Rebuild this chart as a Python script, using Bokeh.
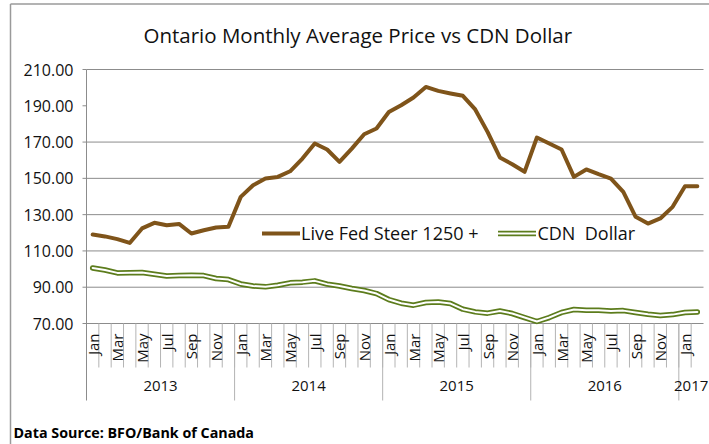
import math
from bokeh.plotting import figure
from bokeh.models import Range1d, Legend, LegendItem
from bokeh.embed import file_html
from bokeh.resources import INLINE
from bokeh.core.properties import value

# ---------------- data ----------------
years = ["2013", "2014", "2015", "2016", "2017"]
month_names = ["Jan", "Feb", "Mar", "Apr", "May", "Jun",
               "Jul", "Aug", "Sep", "Oct", "Nov", "Dec"]
# Jan 2013 .. Feb 2017 (50 months)
month_labels = (month_names * 4) + ["Jan", "Feb"]

steer = [119.0, 118.0, 116.5, 114.4, 122.4, 125.5, 124.2, 124.9, 119.6, 121.4, 122.9, 123.3,
         139.8, 146.2, 149.9, 150.8, 153.9, 160.9, 169.2, 165.9, 159.1, 166.4, 174.3, 177.5,
         186.6, 190.3, 194.6, 200.4, 198.2, 196.8, 195.5, 188.0, 175.6, 161.5, 157.8, 153.6,
         172.5, 169.2, 165.9, 150.8, 154.9, 152.3, 149.9, 142.5, 128.8, 125.1, 127.9, 134.3,
         145.7, 145.7]

cdn = [100.6, 99.5, 97.9, 98.0, 98.1, 97.2, 96.2, 96.4, 96.6, 96.4, 94.8, 94.2,
       91.8, 90.7, 90.2, 91.1, 92.4, 92.8, 93.5, 91.7, 90.7, 89.3, 88.2, 86.5,
       83.2, 81.2, 80.1, 81.6, 81.9, 81.0, 77.9, 76.4, 75.7, 76.9, 75.5, 73.3,
       71.1, 73.3, 76.1, 77.7, 77.3, 77.3, 76.9, 77.1, 76.1, 75.1, 74.4, 74.9,
       76.1, 76.4]

y_ticks = [70, 90, 110, 130, 150, 170, 190, 210]
y_tick_labels = ["70.00", "90.00", "110.00", "130.00", "150.00", "170.00", "190.00", "210.00"]
grid_ticks = [70, 90, 110, 130, 150, 170, 210]

series_names = ["Live Fed Steer 1250 +", "CDN  Dollar"]
title_text = "Ontario Monthly Average Price vs CDN Dollar"
source_text = "Data Source: BFO/Bank of Canada"

# ---------------- styling / layout ----------------
BROWN = "#7F541A"
GREEN = "#5C7C1C"
GRID = "#8C8C8C"
TICK = "#B4B4B4"
FRAME = "#9A9A9A"
TXT = "#111111"
FONT = "Open Sans"

W, H = 709, 444
n = len(month_labels)
xs = [i + 0.5 for i in range(n)]

# pixel geometry of the plotting area (y: 70 -> 323px, 210 -> 69px; x: 0 -> 86px, n -> 703px)
PX = (703 - 86) / n
PY = (323 - 69) / (210 - 70)


def sx(px):
    return (px - 86) / PX


def sy(py):
    return 70 + (323 - py) / PY


p = figure(width=W, height=H, output_backend="svg", toolbar_location=None,
           x_range=Range1d(sx(0), sx(W)), y_range=Range1d(sy(H), sy(0)),
           x_axis_location=None, y_axis_location=None,
           min_border=0, min_border_left=0, min_border_right=0,
           min_border_top=0, min_border_bottom=0)
p.outline_line_color = None
p.background_fill_color = "white"
p.border_fill_color = "white"
p.grid.visible = False

# chart-area frame (left and top edges)
p.segment(x0=[sx(10), sx(10)], y0=[sy(3.5), sy(3.5)], x1=[sx(W + 5), sx(10)], y1=[sy(3.5), sy(H + 5)],
          line_color=FRAME, line_width=1.5)

# horizontal gridlines
p.segment(x0=[0] * len(grid_ticks), y0=grid_ticks, x1=[n] * len(grid_ticks), y1=grid_ticks,
          line_color=GRID, line_width=1)

# value axis: line, ticks, labels
p.segment(x0=[0], y0=[sy(400)], x1=[0], y1=[210], line_color=GRID, line_width=1)
p.segment(x0=[sx(82)] * len(y_ticks), y0=y_ticks, x1=[0] * len(y_ticks), y1=y_ticks,
          line_color=GRID, line_width=1)
p.text(x=[sx(73)] * len(y_ticks), y=y_ticks, text=y_tick_labels,
       text_align="right", text_baseline="middle",
       text_font=value(FONT), text_font_size="16px", text_color=TXT)

# category axis: month ticks, year separators, labels
tick_x = list(range(1, n))
p.segment(x0=tick_x, y0=[70] * len(tick_x), x1=tick_x, y1=[sy(367)] * len(tick_x),
          line_color=TICK, line_width=1)
year_sep = [12, 24, 36, 48]
p.segment(x0=year_sep, y0=[70] * 4, x1=year_sep, y1=[sy(400)] * 4,
          line_color=TICK, line_width=1)

lab_x = [xs[i] for i in range(0, n, 2)]
lab_t = [month_labels[i] for i in range(0, n, 2)]
p.text(x=lab_x, y=[sy(333)] * len(lab_x), text=lab_t, angle=math.pi / 2,
       text_align="right", text_baseline="middle",
       text_font=value(FONT), text_font_size="15px", text_color=TXT)

year_x = [6, 18, 30, 42, 49]
p.text(x=year_x, y=[sy(385)] * len(year_x), text=years,
       text_align="center", text_baseline="middle",
       text_font=value(FONT), text_font_size="15px", text_color=TXT)

# title and source note
p.text(x=[sx(143)], y=[sy(34)], text=[title_text],
       text_align="left", text_baseline="middle",
       text_font=value(FONT), text_font_size="20.5px", text_color=TXT)
p.text(x=[sx(13)], y=[sy(432)], text=[source_text],
       text_align="left", text_baseline="middle",
       text_font=value(FONT), text_font_size="14.3px", text_font_style="bold",
       text_color="#000000")

# series
r_steer = p.line(xs, steer, line_color=BROWN, line_width=4, line_join="round", line_cap="round")
r_cdn_o = p.line(xs, cdn, line_color=GREEN, line_width=5.5, line_join="round", line_cap="round")
r_cdn_i = p.line(xs, cdn, line_color="white", line_width=2, line_join="round", line_cap="round")

legend = Legend(items=[LegendItem(label=series_names[0], renderers=[r_steer]),
                       LegendItem(label=series_names[1], renderers=[r_cdn_o, r_cdn_i])],
                orientation="horizontal", location=(262, 199),
                glyph_width=38, glyph_height=20, label_height=20, label_standoff=1,
                spacing=20, padding=0, margin=0,
                border_line_color=None, background_fill_alpha=0,
                label_text_font=FONT, label_text_font_size="18px",
                label_text_color=TXT)
p.add_layout(legend)

open("out.html", "w").write(file_html(p, INLINE))
